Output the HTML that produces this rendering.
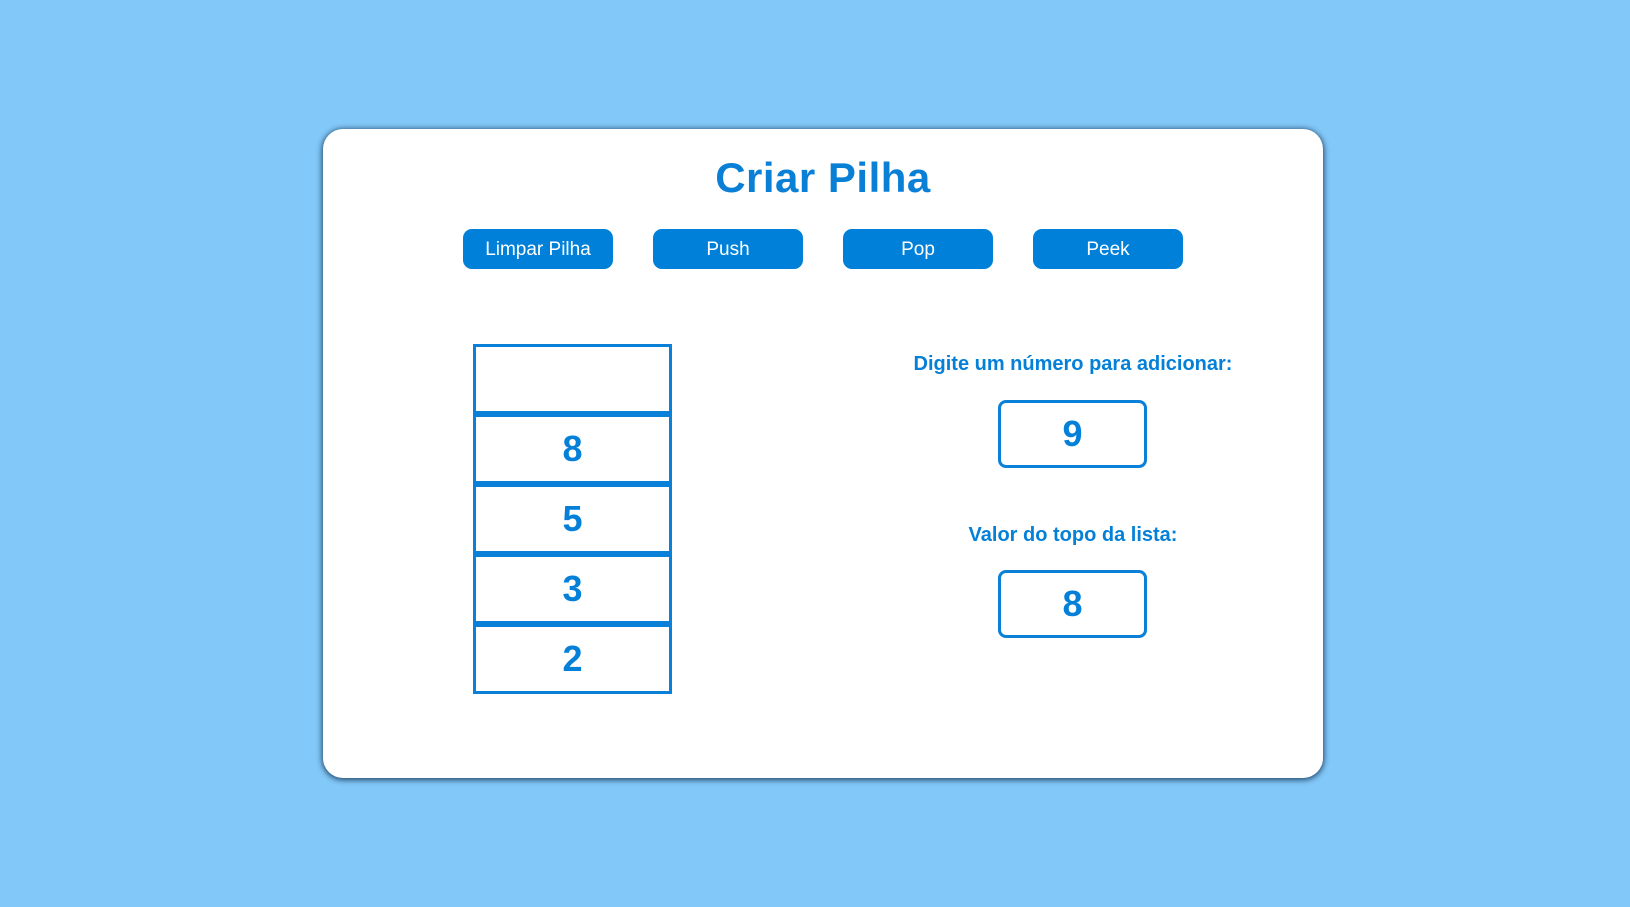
<!DOCTYPE html>
<html><head><meta charset="utf-8"><style>
*{box-sizing:border-box;margin:0;padding:0}
body{width:1630px;height:907px;background:#82c8f8;position:relative;overflow:hidden;font-family:"Liberation Sans",sans-serif;color:#0580d8}
.card{position:absolute;left:323px;top:129px;width:1000px;height:649px;background:#fff;border-radius:20px;box-shadow:0 1px 6px 1px rgba(0,30,60,.75)}
h1{position:absolute;left:323px;width:1000px;top:154px;text-align:center;font-size:42px;font-weight:bold;color:#0a7fd6;letter-spacing:0.5px}
.btn{position:absolute;top:229px;width:150px;height:40px;background:#0080d8;color:#fff;border-radius:9px;text-align:center;line-height:42px;font-size:19px}
.cell{position:absolute;left:473px;width:199px;height:70px;border:3px solid #0a80d8;text-align:center;line-height:64px;font-size:36px;font-weight:bold}
.lbl{position:absolute;left:873px;width:400px;text-align:center;font-size:20px;font-weight:bold}
.box{position:absolute;left:998px;width:149px;height:68px;border:3px solid #0a80d8;border-radius:8px;text-align:center;line-height:62px;font-size:36px;font-weight:bold}
</style></head><body>
<div class="card"></div>
<h1>Criar Pilha</h1>
<div class="btn" style="left:463px">Limpar Pilha</div>
<div class="btn" style="left:653px">Push</div>
<div class="btn" style="left:843px">Pop</div>
<div class="btn" style="left:1033px">Peek</div>
<div class="cell" style="top:344px"></div>
<div class="cell" style="top:414px">8</div>
<div class="cell" style="top:484px">5</div>
<div class="cell" style="top:554px">3</div>
<div class="cell" style="top:624px">2</div>
<div class="lbl" style="top:353px">Digite um número para adicionar:</div>
<div class="box" style="top:400px">9</div>
<div class="lbl" style="top:524px">Valor do topo da lista:</div>
<div class="box" style="top:570px">8</div>
</body></html>
